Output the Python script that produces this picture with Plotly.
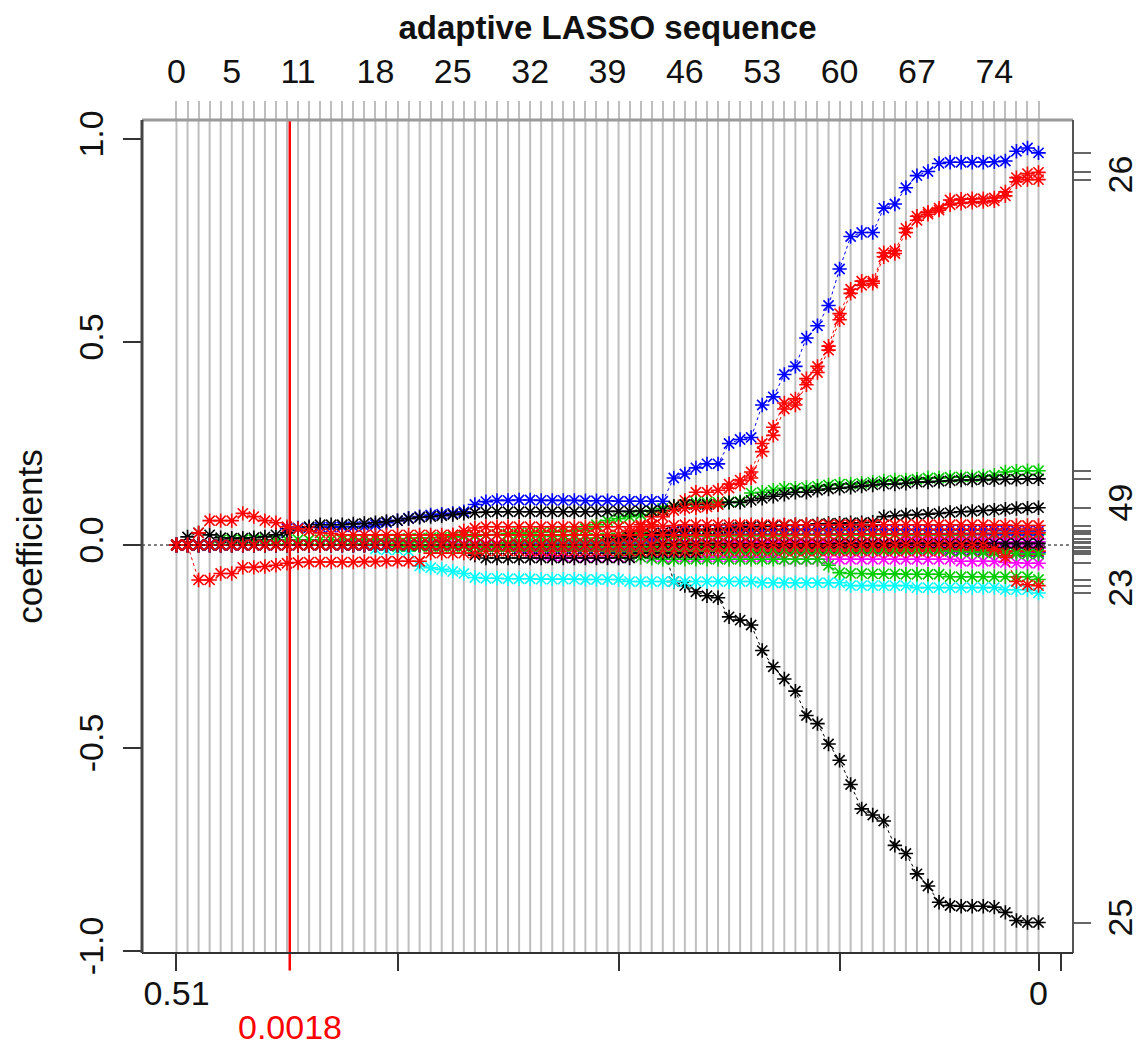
import plotly.graph_objects as go

# ---------------- data ----------------
steps = list(range(79))
top_tick_steps = [0, 5, 11, 18, 25, 32, 39, 46, 53, 60, 67, 74]
bottom_tick_vals = [0, 20, 40, 60, 78, 80]
bottom_tick_text = ["0.51", "", "", "", "0", ""]
selected_step = 10.25
selected_label = "0.0018"
y_tick_vals = [-1.0, -0.5, 0.0, 0.5, 1.0]
y_tick_text = ["-1.0", "-0.5", "0.0", "0.5", "1.0"]

black_neg = [
    0, 0, 0, 0, 0, 0, 0, 0, 0, 0,
    0, 0, 0, 0, 0, 0, 0, 0, 0, 0,
    0, 0, 0, 0, 0, 0, 0, 0, 0, 0,
    0, 0, 0, 0, 0, 0, 0, 0, 0, 0,
    0, 0, 0, 0, 0, -.090, -.100, -.115, -.125, -.130,
    -.177, -.185, -.197, -.260, -.300, -.330, -.360, -.420, -.440, -.490,
    -.530, -.590, -.650, -.665, -.680, -.740, -.760, -.810, -.840, -.880,
    -.888, -.890, -.890, -.890, -.892, -.905, -.925, -.930, -.930]

red_a = [
    0, 0, 0, 0, 0, 0, 0, 0, 0, 0,
    0, 0, 0, 0, 0, 0, 0, 0, 0, 0,
    0, 0, 0, 0, 0, 0, 0, 0, 0, 0,
    0, 0, 0, 0, 0, 0, 0, 0, 0, 0,
    0, .030, .050, .070, .085, .095, .110, .130, .130, .135,
    .150, .160, .180, .250, .290, .350, .360, .410, .440, .490,
    .570, .630, .650, .650, .720, .725, .780, .810, .820, .830,
    .850, .852, .853, .853, .855, .870, .905, .915, .918]

green1 = [
    0, 0, 0, 0, .012, .013, .013, .013, .013, .013,
    .013, .013, .013, .013, .013, .013, .014, .014, .014, .015,
    .015, .016, .017, .018, .019, .020, .021, .022, .024, .026,
    .028, .030, .030, .031, .032, .033, .035, .040, .050, .060,
    .065, .070, .075, .085, .090, .095, .100, .105, .105, .105,
    .106, .107, .128, .130, .135, .140, .140, .142, .145, .148,
    .150, .150, .152, .155, .158, .160, .160, .162, .165, .165,
    .167, .168, .168, .170, .172, .180, .182, .183, .183]

blue_big = [
    0, 0, 0, 0, 0, 0, 0, 0, 0, 0,
    .040, .042, .043, .044, .044, .045, .045, .046, .050, .055,
    .060, .066, .070, .074, .076, .078, .082, .100, .107, .110,
    .110, .111, .111, .110, .110, .110, .110, .109, .109, .109,
    .108, .108, .108, .108, .108, .165, .175, .190, .200, .200,
    .250, .260, .265, .345, .365, .420, .440, .510, .540, .590,
    .680, .760, .770, .770, .830, .840, .880, .910, .920, .940,
    .943, .943, .943, .943, .944, .946, .970, .978, .966]

cyan1 = [
    0, 0, 0, 0, 0, 0, 0, 0, 0, 0,
    0, 0, 0, 0, 0, 0, 0, 0, -.010, -.012,
    -.012, -.015, -.052, -.056, -.060, -.065, -.070, -.080, -.082, -.082,
    -.083, -.083, -.083, -.084, -.084, -.084, -.084, -.085, -.085, -.085,
    -.085, -.090, -.090, -.090, -.090, -.090, -.090, -.090, -.090, -.090,
    -.090, -.090, -.090, -.093, -.093, -.093, -.093, -.093, -.093, -.093,
    -.093, -.100, -.100, -.100, -.100, -.100, -.100, -.105, -.105, -.105,
    -.105, -.105, -.105, -.105, -.105, -.110, -.110, -.110, -.118]

magenta1 = [
    0, 0, 0, 0, 0, 0, 0, 0, 0, 0,
    0, 0, 0, 0, 0, 0, 0, 0, 0, 0,
    0, 0, 0, 0, 0, .003, .003, .003, .003, .003,
    .003, .003, .003, .003, .003, .003, .003, .003, .003, .003,
    .003, .006, .006, .006, .006, .006, .006, .006, .006, .006,
    .006, .006, .006, .006, .006, .006, .006, .006, .006, .006,
    .006, .006, .006, .006, .006, .006, .015, .015, .015, .015,
    .015, .015, .015, .015, .015, .015, .015, .015, .015]

black2 = [
    0, .020, .030, .025, .018, .017, .017, .018, .020, .025,
    .030, .040, .045, .050, .050, .050, .052, .053, .055, .058,
    .060, .065, .068, .070, .072, .075, .078, .080, .081, .082,
    .082, .082, .082, .082, .082, .082, .082, .082, .082, .083,
    .083, .083, .084, .084, .085, .095, .100, .100, .100, .100,
    .105, .105, .110, .115, .120, .125, .130, .130, .135, .138,
    .140, .142, .145, .148, .150, .150, .152, .155, .155, .157,
    .158, .160, .160, .161, .161, .162, .162, .163, .163]

red_b = [
    0, 0, 0, 0, 0, 0, 0, 0, 0, 0,
    0, 0, 0, 0, 0, 0, 0, 0, 0, 0,
    0, 0, 0, 0, 0, 0, 0, 0, 0, 0,
    0, 0, 0, 0, 0, 0, 0, 0, 0, 0,
    .010, .020, .035, .050, .070, .085, .090, .092, .094, .100,
    .140, .150, .165, .230, .270, .335, .345, .395, .425, .480,
    .555, .620, .640, .645, .710, .718, .770, .800, .815, .825,
    .838, .842, .844, .846, .848, .860, .895, .900, .900]

green2 = [
    0, 0, 0, 0, 0, 0, 0, 0, 0, 0,
    0, 0, 0, 0, 0, 0, 0, 0, 0, 0,
    0, 0, 0, 0, 0, 0, 0, 0, 0, 0,
    .005, .008, .010, .012, .013, .014, .015, .016, .017, .018,
    .018, .019, .019, .020, .020, .021, .021, .022, .022, .022,
    .023, .023, .023, .023, .023, .023, .024, .024, .024, .024,
    .024, .024, .024, .024, .025, .025, .025, .025, .025, .025,
    .025, .025, .026, .026, .026, .026, .026, .026, .026]

blue2 = [
    0, 0, 0, 0, 0, 0, 0, 0, 0, 0,
    0, 0, 0, 0, 0, 0, 0, 0, 0, 0,
    0, 0, 0, 0, 0, 0, 0, 0, 0, 0,
    0, 0, 0, 0, 0, 0, 0, 0, 0, 0,
    0, 0, 0, .015, .030, .035, .038, .038, .038, .038,
    .038, .038, .038, .038, .038, .038, .038, .038, .038, .038,
    .038, .038, .038, .038, .038, .038, .038, .038, .038, .038,
    .038, .038, .037, .037, .036, .036, .035, .035, .035]

magenta3 = [
    0, 0, 0, 0, 0, 0, 0, 0, 0, 0,
    0, 0, 0, 0, 0, 0, 0, 0, 0, 0,
    0, 0, 0, 0, 0, 0, 0, 0, 0, 0,
    0, -.010, -.018, -.024, -.027, -.028, -.030, -.030, -.030, -.030,
    -.030, -.030, -.030, -.030, -.030, -.030, -.030, -.030, -.030, -.030,
    -.030, -.030, -.030, -.030, -.030, -.035, -.035, -.035, -.035, -.035,
    -.035, -.035, -.035, -.035, -.035, -.035, -.035, -.035, -.035, -.035,
    -.035, -.040, -.040, -.040, -.040, -.043, -.044, -.045, -.045]

black3 = [
    0, 0, 0, 0, 0, 0, 0, 0, 0, 0,
    0, 0, 0, 0, 0, 0, 0, 0, 0, 0,
    0, 0, 0, 0, 0, 0, 0, 0, 0, 0,
    0, 0, 0, 0, 0, 0, 0, 0, 0, .010,
    .015, .020, .025, .028, .030, .032, .034, .036, .038, .040,
    .042, .044, .045, .046, .047, .048, .050, .050, .052, .053,
    .054, .055, .055, .056, .070, .072, .074, .075, .076, .078,
    .080, .082, .083, .085, .086, .088, .090, .091, .092]

red3 = [
    0, 0, 0, 0, 0, 0, 0, 0, 0, 0,
    0, 0, 0, 0, 0, 0, 0, 0, 0, 0,
    0, 0, 0, 0, .010, .025, .035, .042, .045, .045,
    .045, .045, .045, .045, .045, .045, .045, .045, .045, .045,
    .045, .045, .045, .046, .046, .048, .050, .050, .050, .050,
    .050, .050, .050, .050, .050, .050, .050, .050, .050, .050,
    .050, .050, .050, .050, .050, .050, .050, .050, .050, .050,
    .050, .050, .050, .050, .049, .049, .048, .048, .048]

green3 = [
    0, 0, 0, 0, 0, 0, 0, 0, 0, 0,
    0, 0, 0, 0, 0, 0, 0, 0, 0, 0,
    0, 0, 0, 0, 0, 0, 0, 0, 0, 0,
    0, 0, 0, 0, 0, 0, 0, 0, 0, -.010,
    -.020, -.025, -.030, -.033, -.035, -.035, -.035, -.035, -.035, -.035,
    -.035, -.035, -.035, -.035, -.035, -.035, -.035, -.035, -.035, -.050,
    -.068, -.070, -.070, -.071, -.071, -.071, -.072, -.072, -.072, -.072,
    -.078, -.078, -.078, -.078, -.078, -.078, -.078, -.078, -.085]

blue_z = [
    0, 0, 0, 0, 0, 0, 0, 0, 0, 0,
    0, 0, 0, 0, 0, 0, 0, 0, 0, 0,
    0, 0, 0, 0, 0, 0, 0, 0, 0, 0,
    0, -.006, -.006, -.006, -.006, -.006, -.006, -.006, -.006, -.006,
    -.006, -.006, -.006, -.006, -.006, -.006, -.006, -.006, -.006, -.006,
    -.010, -.010, -.010, -.010, -.010, -.010, -.010, -.010, -.010, -.010,
    -.010, -.010, -.010, -.010, -.010, -.010, -.010, -.010, -.010, -.010,
    -.012, -.012, -.012, -.013, -.014, -.015, -.016, -.017, -.018]

magenta2 = [
    0, 0, 0, 0, 0, 0, 0, 0, 0, 0,
    0, 0, 0, 0, 0, 0, 0, 0, 0, 0,
    0, 0, 0, 0, 0, 0, 0, 0, 0, 0,
    -.004, -.004, -.004, -.004, -.004, -.004, -.004, -.004, -.004, -.004,
    -.004, -.004, -.004, -.004, -.004, -.004, -.004, -.004, -.004, -.004,
    -.004, -.004, -.004, -.004, -.004, -.004, -.004, -.004, -.004, -.004,
    -.004, -.004, -.004, -.004, -.004, -.004, -.008, -.008, -.008, -.008,
    -.008, -.008, -.008, -.008, -.008, -.008, -.008, -.008, -.008]

black4 = [
    0, 0, 0, 0, 0, 0, 0, 0, 0, 0,
    0, 0, 0, 0, 0, 0, 0, 0, 0, 0,
    0, 0, 0, 0, 0, 0, 0, -.025, -.032, -.032,
    -.032, -.032, -.032, -.032, -.032, -.032, -.032, -.032, -.032, -.032,
    -.032, -.032, -.020, -.020, -.020, -.020, -.020, -.020, -.008, -.008,
    -.008, -.008, -.008, -.008, -.008, -.008, -.008, -.008, -.008, -.008,
    -.008, -.008, -.008, -.008, -.008, -.008, -.008, -.005, -.005, -.005,
    -.005, -.005, -.005, -.005, -.005, -.005, -.005, -.005, -.005]

red_e2 = [
    0, 0, -.086, -.086, -.070, -.070, -.055, -.055, -.053, -.050,
    -.045, -.043, -.042, -.042, -.042, -.042, -.042, -.041, -.041, -.040,
    -.040, -.040, -.040, -.020, -.020, -.020, -.020, -.020, -.015, -.015,
    -.015, -.015, -.015, -.015, -.015, -.015, -.015, -.015, -.015, -.015,
    -.015, -.015, -.015, -.015, -.015, -.015, -.015, -.015, -.015, -.015,
    -.015, -.015, -.015, -.015, -.015, -.015, -.015, -.015, -.015, -.015,
    -.015, -.015, -.015, -.015, -.015, -.015, -.015, -.015, -.015, -.015,
    -.015, -.015, -.015, -.015, -.015, -.015, -.015, -.015, -.015]

green_z = [
    0, 0, 0, 0, 0, 0, 0, 0, 0, 0,
    0, 0, 0, 0, 0, 0, 0, 0, 0, 0,
    -.004, -.004, -.004, -.004, -.004, -.004, -.004, -.004, -.004, -.004,
    -.004, -.004, -.004, -.004, -.004, -.004, -.004, -.004, -.004, -.004,
    -.004, -.004, -.004, -.004, -.004, -.004, -.004, -.004, -.004, -.004,
    -.010, -.010, -.010, -.010, -.010, -.010, -.010, -.010, -.010, -.010,
    -.010, -.010, -.010, -.010, -.010, -.010, -.010, -.010, -.010, -.010,
    -.015, -.016, -.017, -.018, -.019, -.020, -.021, -.022, -.022]

magenta_z = [
    0, 0, 0, 0, 0, 0, 0, 0, 0, 0,
    0, 0, 0, 0, 0, 0, 0, 0, 0, 0,
    0, 0, 0, 0, 0, 0, 0, 0, 0, 0,
    0, 0, 0, 0, 0, 0, 0, 0, 0, 0,
    0, 0, 0, 0, 0, 0, 0, 0, 0, 0,
    0, 0, 0, 0, 0, 0, 0, 0, 0, 0,
    0, .002, .002, .002, .002, .002, .008, .008, .008, .008,
    .008, .008, .008, .008, .008, .008, .008, .008, .008]

black_z = [
    0, 0, 0, 0, 0, 0, 0, 0, 0, 0,
    0, 0, 0, 0, 0, 0, 0, 0, 0, 0,
    0, 0, 0, 0, 0, 0, 0, 0, 0, 0,
    0, 0, 0, 0, 0, 0, 0, 0, 0, 0,
    0, 0, 0, 0, .003, .003, .003, .003, .003, .003,
    .003, .003, .003, .003, .003, .003, .003, .003, .003, .003,
    .004, .004, .004, .004, .004, .004, .004, .004, .004, .004,
    .004, .004, .004, .004, .004, .004, .004, .004, .004]

red_e1 = [
    0, 0, .030, .060, .060, .060, .078, .070, .060, .055,
    .045, .040, .035, .030, .028, .025, .025, .025, .025, .025,
    .025, .025, .025, .025, .025, .025, .025, .025, .025, .025,
    .025, .025, .025, .025, .025, .025, .025, .025, .025, .025,
    .025, .025, .025, .025, .025, .025, .025, .025, .025, .025,
    .026, .026, .026, .026, .026, .026, .026, .026, .026, .026,
    .027, .027, .027, .027, .027, .027, .027, .027, .027, .027,
    .028, .028, .028, .028, .029, .029, .030, .030, .030]

red4 = [
    0, 0, 0, 0, 0, 0, 0, 0, 0, 0,
    0, 0, 0, 0, 0, 0, 0, 0, 0, 0,
    0, 0, 0, 0, 0, 0, 0, 0, 0, 0,
    0, 0, 0, 0, 0, 0, 0, 0, 0, 0,
    0, 0, 0, 0, 0, 0, 0, 0, 0, 0,
    0, 0, 0, 0, 0, 0, 0, 0, 0, 0,
    0, 0, 0, 0, 0, 0, 0, 0, 0, 0,
    0, 0, 0, 0, -.010, -.030, -.090, -.098, -.100]

BLACK, RED, GREEN, BLUE, CYAN, MAGENTA = "#000000", "#FF0000", "#00CD00", "#0000FF", "#00FFFF", "#FF00FF"

# (values, colour, right-axis label)
series = [
    (black_neg, BLACK, "25"),
    (red_a, RED, ""),
    (green1, GREEN, ""),
    (blue_big, BLUE, ""),
    (cyan1, CYAN, "23"),
    (magenta1, MAGENTA, ""),
    (black2, BLACK, ""),
    (red_b, RED, "26"),
    (green2, GREEN, ""),
    (blue2, BLUE, ""),
    (magenta3, MAGENTA, ""),
    (black3, BLACK, "49"),
    (red3, RED, ""),
    (green3, GREEN, ""),
    (blue_z, BLUE, ""),
    (magenta2, MAGENTA, ""),
    (black4, BLACK, ""),
    (red_e2, RED, ""),
    (green_z, GREEN, ""),
    (magenta_z, MAGENTA, ""),
    (black_z, BLACK, ""),
    (red_e1, RED, ""),
    (red4, RED, ""),
]

# ---------------- figure ----------------
FONT = "Liberation Sans, Arial, sans-serif"
XR = [-3.12, 81.12]
YR = [-1.005, 1.047]

fig = go.Figure()
for vals, col, _ in series:
    fig.add_trace(go.Scatter(
        x=steps, y=vals, mode="lines+markers",
        line=dict(color=col, width=1, dash="dot"),
        marker=dict(symbol="asterisk-open", size=12, color=col,
                    line=dict(color=col, width=1.6)),
        showlegend=False, hoverinfo="skip"))

# invisible trace to carry the top / right axes
fig.add_trace(go.Scatter(x=[steps[0]], y=[0], xaxis="x2", yaxis="y2",
                         mode="markers", marker=dict(opacity=0),
                         showlegend=False, hoverinfo="skip"))

shapes = []
# grey step lines
for s in steps:
    shapes.append(dict(type="line", xref="x", yref="paper", x0=s, x1=s, y0=0, y1=1,
                       line=dict(color="#BEBEBE", width=2), layer="below"))
# zero reference line
shapes.append(dict(type="line", xref="paper", yref="y", x0=0, x1=1, y0=0, y1=0,
                   line=dict(color="#000000", width=1, dash="dot"), layer="above"))
# selected step
shapes.append(dict(type="line", xref="x", yref="paper", x0=selected_step, x1=selected_step,
                   y0=-0.021, y1=1, line=dict(color="#FF0000", width=2.5), layer="above"))
# box
shapes += [
    dict(type="line", xref="paper", yref="paper", x0=0, x1=1, y0=1, y1=1,
         line=dict(color="#9a9a9a", width=3)),
    dict(type="line", xref="paper", yref="paper", x0=1, x1=1, y0=0, y1=1,
         line=dict(color="#555555", width=2)),
    dict(type="line", xref="paper", yref="paper", x0=0, x1=1, y0=0, y1=0,
         line=dict(color="#333333", width=2)),
    dict(type="line", xref="paper", yref="paper", x0=0, x1=0, y0=0, y1=1,
         line=dict(color="#444444", width=3)),
]

right_vals = [vals[-1] for vals, _, _ in series]
right_text = [lab for _, _, lab in series]

tickfont = dict(family=FONT, size=34, color="#111111")

fig.update_layout(
    width=1134, height=1042,
    margin=dict(l=134, r=69, t=112, b=97, autoexpand=False),
    paper_bgcolor="white", plot_bgcolor="white",
    shapes=shapes,
    xaxis=dict(range=XR, tickvals=bottom_tick_vals, ticktext=bottom_tick_text,
               ticks="outside", ticklen=17, tickwidth=2, tickcolor="#333333",
               showgrid=False, zeroline=False, showline=False, automargin=False,
               tickfont=tickfont, ticklabelstandoff=-7),
    xaxis2=dict(range=XR, overlaying="x", side="top", anchor="y",
                tickvals=steps,
                ticktext=[str(s) if s in top_tick_steps else "" for s in steps],
                ticks="outside", ticklen=18, tickwidth=2, tickcolor="#BEBEBE",
                showgrid=False, zeroline=False, showline=False, automargin=False,
                tickfont=tickfont, ticklabelstandoff=4,
                title=dict(text="<b>adaptive LASSO sequence</b>",
                           font=dict(family=FONT, size=33, color="#111111"),
                           standoff=2)),
    yaxis=dict(range=YR, tickvals=y_tick_vals, ticktext=y_tick_text,
               tickangle=-90, ticks="outside", ticklen=18, tickwidth=2,
               tickcolor="#333333", showgrid=False, zeroline=False, showline=False,
               automargin=False, tickfont=tickfont, ticklabelstandoff=6,
               title=dict(text="coefficients",
                          font=dict(family=FONT, size=35, color="#111111"),
                          standoff=19)),
    yaxis2=dict(range=YR, overlaying="y", side="right", anchor="x",
                tickvals=right_vals, ticktext=right_text,
                tickangle=-90, ticks="outside", ticklen=17, tickwidth=2,
                tickcolor="#666666", showgrid=False, zeroline=False, showline=False,
                automargin=False, tickfont=tickfont, ticklabelstandoff=0),
    annotations=[dict(x=selected_step, y=-0.089, xref="x", yref="paper",
                      text=selected_label, showarrow=False,
                      font=dict(family=FONT, size=34, color="#FF0000"),
                      xanchor="center", yanchor="middle")],
)

fig.write_html("out.html")
